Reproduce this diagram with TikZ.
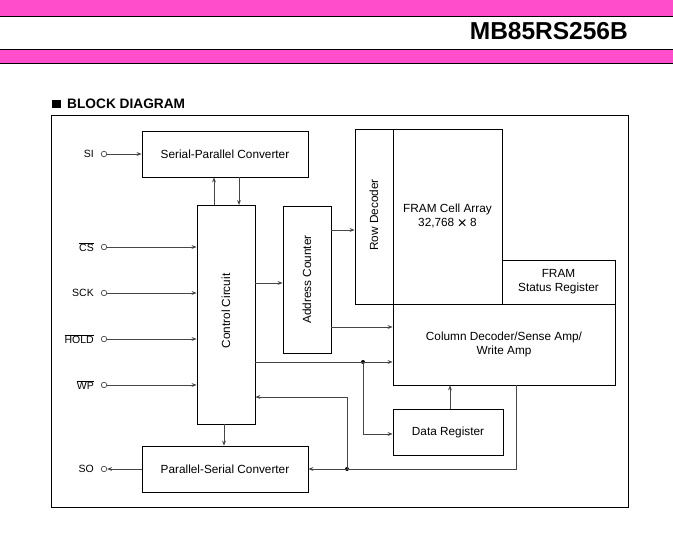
\documentclass[tikz,border=0pt]{standalone}
\usepackage{fontspec}
\setmainfont{Liberation Sans}
\usetikzlibrary{arrows.meta}
\definecolor{hdrpink}{RGB}{255,77,204}
\definecolor{linegray}{RGB}{70,70,70}
\newcommand{\myovl}[1]{$\overline{\mbox{#1}}$}
\newcommand{\mytimes}{\raisebox{-2.2pt}{\fontsize{16}{14}\selectfont ×}}
\tikzset{
  blkfont/.style={font=\fontsize{11.8}{14}\selectfont},
  blk/.style={draw=black, line width=0.8pt, inner sep=0pt, blkfont, align=center},
  conn/.style={draw=linegray, line width=0.7pt, -{Stealth[length=5pt,width=3.8pt]}},
  pin/.style={circle, draw=linegray, line width=0.7pt, minimum size=5.5pt, inner sep=0pt},
  pinlbl/.style={anchor=east, inner sep=0pt, font=\fontsize{10.5}{12}\selectfont},
  junc/.style={circle, fill=black, minimum size=4pt, inner sep=0pt}
}
\begin{document}
\begin{tikzpicture}[x=1pt,y=-1pt]
\useasboundingbox (0,0) rectangle (673,556);
\fill[white] (0,0) rectangle (673,556);
% header
\fill[hdrpink] (0,0) rectangle (673,17);
\draw[black, line width=1pt] (0,17) -- (673,17);
\fill[hdrpink] (0,50) rectangle (673,63);
\draw[black, line width=1pt] (0,50) -- (673,50);
\draw[black, line width=1pt] (0,63.5) -- (673,63.5);
\node[anchor=base east, inner sep=0pt, font=\fontsize{24.5}{28}\selectfont\bfseries] (title) at (628,40) {MB85RS256B};
\fill[black] (52,100) rectangle (61,108.5);
\node[anchor=base west, inner sep=0pt, font=\fontsize{13.7}{16}\selectfont\bfseries] (bd) at (67,108.5) {BLOCK DIAGRAM};
% frame
\draw[black, line width=0.8pt] (51.5,115) rectangle (628,507);
% blocks
\node[blk, minimum width=166pt, minimum height=46pt] (spc) at (225,154) {Serial-Parallel Converter};
\node[blk, minimum width=58pt, minimum height=219pt] (cc) at (226,314.5) {};
\node[rotate=90, blkfont] (cctxt) at (226,311) {Control Circuit};
\node[blk, minimum width=48pt, minimum height=147pt] (ac) at (307,279.5) {};
\node[rotate=90, blkfont] (actxt) at (307,279.5) {Address Counter};
\node[blk, minimum width=38pt, minimum height=175pt] (rd) at (374,216.5) {};
\node[rotate=90, blkfont] (rdtxt) at (374,215) {Row Decoder};
\node[blk, minimum width=109pt, minimum height=175pt] (fca) at (447.5,216.5) {FRAM Cell Array\\32,768 \mytimes\ 8};
\node[blk, minimum width=113pt, minimum height=44pt] (fsr) at (558.5,282) {FRAM\\Status Register};
\node[blk, minimum width=222pt, minimum height=81pt] (cd) at (504,344.5) {Column Decoder/Sense Amp/\\Write Amp};
\node[blk, minimum width=110pt, minimum height=46pt] (dr) at (448,432) {Data Register};
\node[blk, minimum width=166pt, minimum height=46pt] (psc) at (225,469) {Parallel-Serial Converter};
% pins
\node[pin] (si) at (104,154) {};
\node[pin] (cs) at (104,247) {};
\node[pin] (sck) at (104,293) {};
\node[pin] (hold) at (104,339) {};
\node[pin] (wp) at (104,385) {};
\node[pin] (so) at (104,469) {};
\node[pinlbl] (silbl) at (94,154) {SI};
\node[pinlbl] (cslbl) at (94,247) {\myovl{CS}};
\node[pinlbl] (scklbl) at (94,293) {SCK};
\node[pinlbl] (holdlbl) at (94,339) {\myovl{HOLD}};
\node[pinlbl] (wplbl) at (94,385) {\myovl{WP}};
\node[pinlbl] (solbl) at (94,469) {SO};
% connectors
\draw[conn] (si) -- (spc.west);
\draw[conn] (cs) -- (cs -| cc.west);
\draw[conn] (sck) -- (sck -| cc.west);
\draw[conn] (hold) -- (hold -| cc.west);
\draw[conn] (wp) -- (wp -| cc.west);
\coordinate (ccup) at (214,205);
\coordinate (ccdn) at (239,205);
\draw[conn] (ccup) -- (ccup |- spc.south);
\draw[conn] (ccdn |- spc.south) -- (ccdn);
\coordinate (cc2ac) at (255,283);
\draw[conn] (cc2ac) -- (cc2ac -| ac.west);
\coordinate (ac2rd) at (331,230);
\draw[conn] (ac2rd) -- (ac2rd -| rd.west);
\coordinate (ac2cd) at (331,327);
\draw[conn] (ac2cd) -- (ac2cd -| cd.west);
\coordinate (cc2cd) at (255,362);
\node[junc] (j1) at (363,362) {};
\draw[conn] (cc2cd) -- (cc2cd -| cd.west);
\coordinate (j1low) at (363,434);
\draw[conn] (j1.center) -- (j1low) -- (j1low -| dr.west);
\coordinate (dr2cd) at (450,409);
\draw[conn] (dr2cd) -- (dr2cd |- cd.south);
\coordinate (cdout) at (516,385);
\coordinate (cdcorner) at (516,469);
\node[junc] (j2) at (347,469) {};
\draw[conn] (cdout) -- (cdcorner) -- (psc.east);
\coordinate (j2up) at (347,397);
\draw[conn] (j2.center) -- (j2up) -- (j2up -| cc.east);
\coordinate (ccbot) at (224,424);
\draw[conn] (ccbot) -- (ccbot |- psc.north);
\draw[conn] (psc.west) -- (so);
\end{tikzpicture}
\end{document}
